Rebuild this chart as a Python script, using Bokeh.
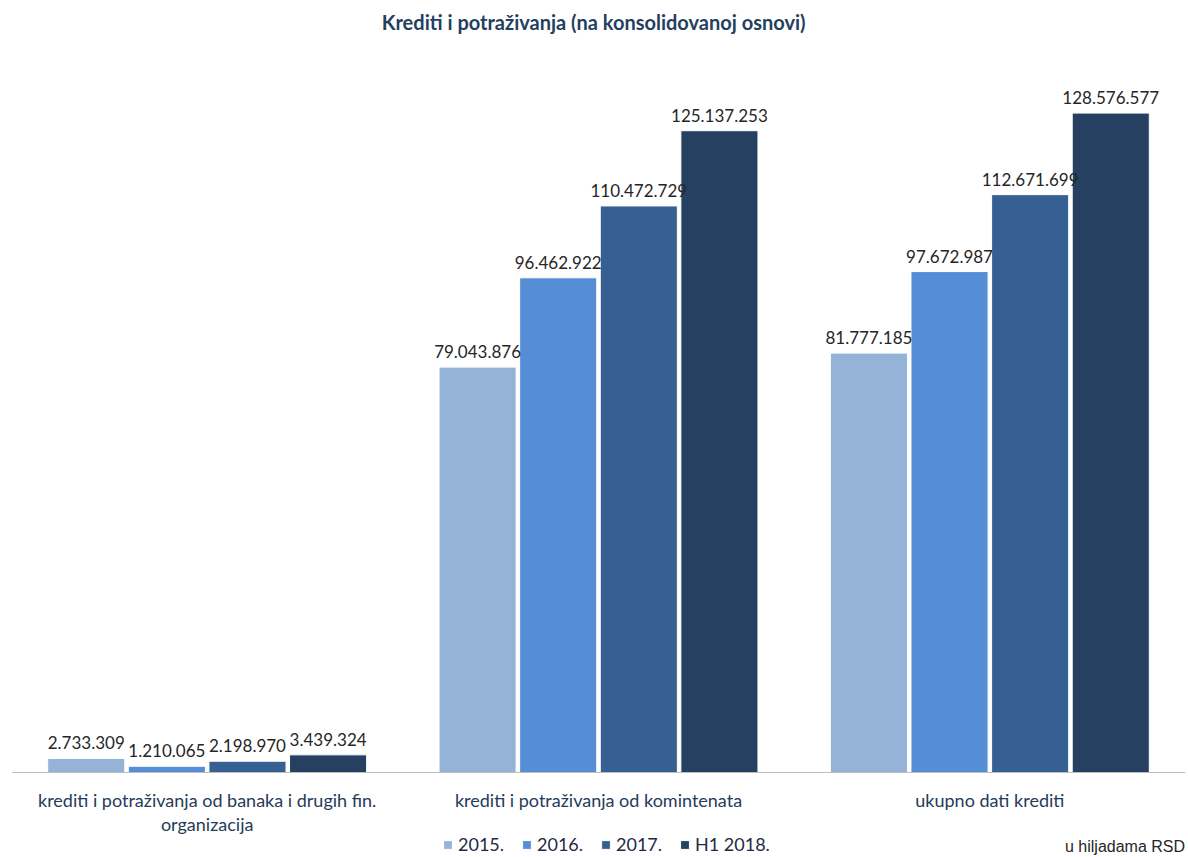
from bokeh.plotting import figure
from bokeh.models import (ColumnDataSource, Legend, LegendItem, Range1d, LabelSet, Span)
from bokeh.core.properties import value
from bokeh.embed import file_html
from bokeh.resources import INLINE

# ---- data ----
categories = [
    "krediti i potraživanja od banaka i drugih fin.\norganizacija",
    "krediti i potraživanja od komintenata",
    "ukupno dati krediti",
]
series = ["2015.", "2016.", "2017.", "H1 2018."]
v2015 = [2733309, 79043876, 81777185]
v2016 = [1210065, 96462922, 97672987]
v2017 = [2198970, 110472729, 112671699]
vH1_2018 = [3439324, 125137253, 128576577]
values = [v2015, v2016, v2017, vH1_2018]
colors = ["#95B3D7", "#558ED5", "#376092", "#264061"]

title_text = "Krediti i potraživanja  (na konsolidovanoj  osnovi)"
unit_text = "u hiljadama  RSD"


def fmt(v):
    return f"{v:,}".replace(",", ".")


W, H = 1188, 857
AXIS_TOP_PX, BASE_FROM_BOTTOM = 54, 85   # where a 140M value would sit / baseline position
Y_MAX = 140_000_000
plot_px = H - AXIS_TOP_PX - BASE_FROM_BOTTOM
px_per_unit = plot_px / Y_MAX
y_start = -BASE_FROM_BOTTOM / px_per_unit
y_end = (H - BASE_FROM_BOTTOM) / px_per_unit   # frame spans whole height

p = figure(width=W, height=H, x_range=Range1d(0, 3), y_range=Range1d(y_start, y_end),
           output_backend="svg", toolbar_location=None,
           min_border_left=11, min_border_right=3, min_border_top=0, min_border_bottom=0,
           outline_line_color=None)

p.xgrid.visible = False
p.ygrid.visible = False
p.xaxis.visible = False
p.yaxis.visible = False

# title
p.text(x=[1.5], y=[y_end], text=[title_text], text_align="center", text_baseline="middle",
       y_offset=21, text_font=value("Lato"), text_font_size="20px",
       text_font_style="bold", text_color="#243F60")

# baseline (category axis line)
p.add_layout(Span(location=0, dimension="width", line_color="#BFBFBF", line_width=1.2))

step = 0.206
bw = 0.197
offsets = [-1.5 * step, -0.5 * step, 0.5 * step, 1.5 * step]

items = []
for s, vals, col, off in zip(series, values, colors, offsets):
    src = ColumnDataSource(dict(
        x=[i + 0.5 + off for i in range(len(categories))],
        top=vals,
        lab=[fmt(v) for v in vals],
    ))
    r = p.vbar(x="x", top="top", bottom=0, width=bw, source=src, fill_color=col,
               line_color="white", line_width=1)
    items.append(LegendItem(label=s, renderers=[r]))
    ls = LabelSet(x="x", y="top", text="lab", source=src, text_align="center",
                  text_baseline="bottom", y_offset=9, text_font=value("Lato"),
                  text_font_size="17px", text_color="#262626")
    p.add_layout(ls)

# category labels under the baseline
cat_src = ColumnDataSource(dict(x=[i + 0.5 for i in range(len(categories))],
                                y=[0] * len(categories), t=categories))
p.text(x="x", y="y", text="t", source=cat_src, text_align="center", text_baseline="top",
       y_offset=16, text_font=value("Lato"), text_font_size="18px",
       text_color="#263B5A", text_line_height=1.12)

# unit note at bottom right
p.text(x=[3], y=[0], text=[unit_text], text_align="right", text_baseline="middle",
       x_offset=4, y_offset=74, text_font=value("Liberation Sans"),
       text_font_size="16px", text_color="#262626")

legend = Legend(items=items, orientation="horizontal", location=(431, 2),
                label_text_font="Lato", label_text_font_size="18px",
                label_text_color="#1F2A44", glyph_width=11, glyph_height=11,
                label_standoff=5, spacing=17, padding=0, margin=0,
                border_line_color=None, background_fill_alpha=0)
p.add_layout(legend, "center")

open("out.html", "w").write(file_html(p, INLINE))
